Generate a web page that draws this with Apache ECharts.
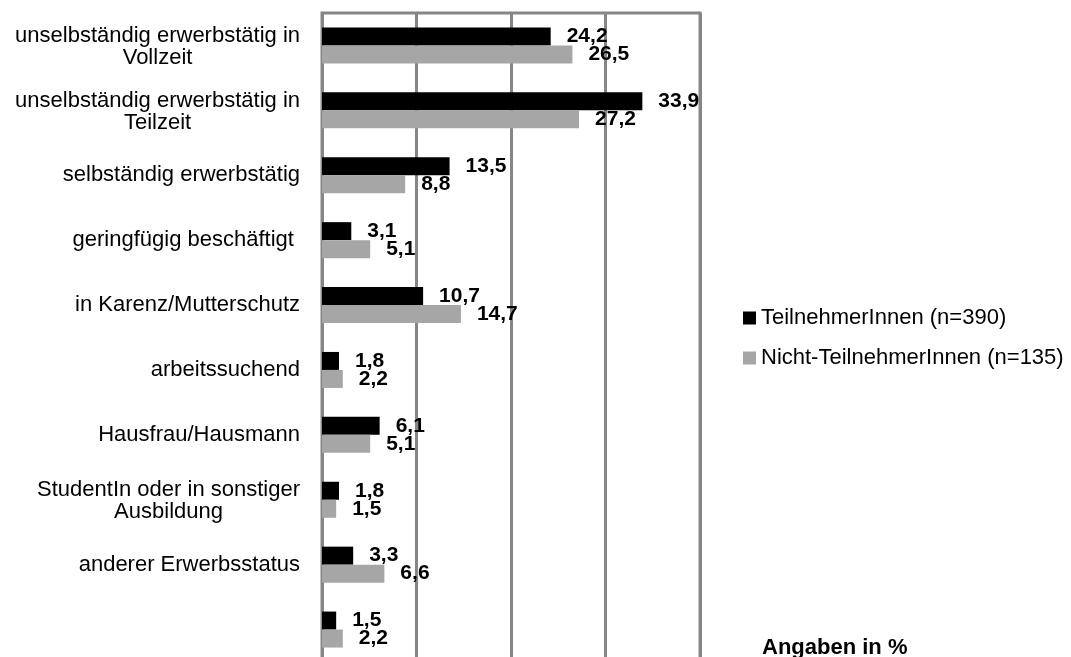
<!DOCTYPE html>
<html>
<head>
<meta charset="utf-8">
<script src="https://cdn.jsdelivr.net/npm/echarts@6/dist/echarts.min.js"></script>
<style>
  html, body { margin: 0; padding: 0; background: #fff; }
  #chart { width: 1071px; height: 657px; }
</style>
</head>
<body>
<div id="chart"></div>
<script>
const categories = [
  'unselbständig erwerbstätig in\nVollzeit',
  'unselbständig erwerbstätig in\nTeilzeit',
  'selbständig erwerbstätig',
  'geringfügig beschäftigt ',
  'in Karenz/Mutterschutz',
  'arbeitssuchend',
  'Hausfrau/Hausmann',
  'StudentIn oder in sonstiger\nAusbildung',
  'anderer Erwerbsstatus',
  ''
]
const teilnehmer = [24.2, 33.9, 13.5, 3.1, 10.7, 1.8, 6.1, 1.8, 3.3, 1.5]
const nichtTeilnehmer = [26.5, 27.2, 8.8, 5.1, 14.7, 2.2, 5.1, 1.5, 6.6, 2.2]
const seriesNames = ['TeilnehmerInnen (n=390)', 'Nicht-TeilnehmerInnen (n=135)']

const font = "'Liberation Sans', Arial, sans-serif"
const gridColor = '#868686'

const chart = echarts.init(document.getElementById('chart'))

// Wert mit Dezimalkomma
const labelFmt = (p) => String(p.value).replace('.', ',')

// zweizeilige Labels: Zeilen zentriert, etwas nach unten versetzt
const catFmt = (v) => {
  if (!v) return ''
  const lines = v.split('\n')
  if (lines.length === 1) return '{c|' + v + '}'
  return lines.map((l, i) => (i === 0 ? '{t|' : '{c|') + l + '}').join('\n')
}

const barLabel = {
  show: true,
  position: 'right',
  distance: 16,
  formatter: labelFmt,
  fontFamily: font,
  fontSize: 21,
  fontWeight: 'bold',
  color: '#000'
}

const option = {
  backgroundColor: '#fff',
  animation: false,
  textStyle: { fontFamily: font },
  grid: {
    left: 322,
    top: 13,
    width: 378,
    height: 649,
    outerBoundsMode: 'none',
    containLabel: false,
    show: true,
    borderColor: gridColor,
    borderWidth: 3,
    backgroundColor: 'transparent'
  },
  legend: {
    orient: 'vertical',
    left: 738,
    top: 302,
    icon: 'rect',
    itemWidth: 13,
    itemHeight: 13,
    itemGap: 18,
    data: seriesNames,
    textStyle: { fontFamily: font, fontSize: 22, color: '#000' }
  },
  graphic: [{
    type: 'text',
    left: 762,
    top: 637,
    style: {
      text: 'Angaben in %',
      font: "bold 22px 'Liberation Sans', Arial, sans-serif",
      fill: '#000'
    }
  }],
  xAxis: {
    type: 'value',
    min: 0,
    max: 40,
    interval: 10,
    axisLabel: { show: false },
    axisTick: { show: false },
    axisLine: { show: false },
    splitLine: { show: true, lineStyle: { color: gridColor, width: 3 } }
  },
  yAxis: {
    type: 'category',
    inverse: true,
    data: categories,
    axisTick: { show: false },
    axisLine: { show: true, lineStyle: { color: gridColor, width: 3 } },
    axisLabel: {
      margin: 22,
      formatter: catFmt,
      rich: {
        c: {
          align: 'center',
          fontFamily: font,
          fontSize: 22,
          lineHeight: 25,
          color: '#000'
        },
        t: {
          align: 'center',
          fontFamily: font,
          fontSize: 22,
          lineHeight: 25,
          padding: [6, 0, 0, 0],
          color: '#000'
        }
      }
    }
  },
  series: [
    {
      name: seriesNames[0],
      type: 'bar',
      data: teilnehmer,
      barWidth: 18,
      barGap: '0%',
      itemStyle: { color: '#000000' },
      label: barLabel
    },
    {
      name: seriesNames[1],
      type: 'bar',
      data: nichtTeilnehmer,
      barWidth: 18,
      barGap: '0%',
      itemStyle: { color: '#a6a6a6' },
      label: barLabel
    }
  ]
}

chart.setOption(option)
</script>
</body>
</html>
